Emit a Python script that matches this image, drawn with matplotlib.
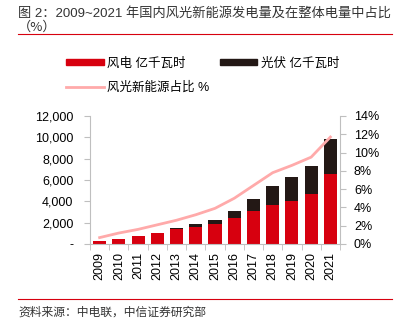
import matplotlib.pyplot as plt
import matplotlib.patches as mpatches
from matplotlib.lines import Line2D
from matplotlib.ticker import FuncFormatter
import numpy as np

plt.rcParams['font.family'] = ['Liberation Sans', 'Noto Sans CJK SC']

years = ['2009', '2010', '2011', '2012', '2013', '2014', '2015',
         '2016', '2017', '2018', '2019', '2020', '2021']
wind = [276, 494, 741, 1030, 1383, 1598, 1856, 2409, 3057, 3660, 4057, 4665, 6556]
solar = [0, 0, 6, 36, 84, 235, 392, 665, 1182, 1775, 2243, 2611, 3259]
share = [0.7, 1.2, 1.6, 2.1, 2.6, 3.2, 3.9, 5.0, 6.4, 7.8, 8.6, 9.5, 11.7]

RED = '#d7000f'
DARK = '#231815'
PINK = '#ffaaaa'
GREY = '#bfbfbf'

fig = plt.figure(figsize=(4.02, 3.29), dpi=100)
W, H = 402, 329

# title and rules
fig.text(18 / W, 1 - 13 / H, '图 2：2009~2021 年国内风光新能源发电量及在整体电量中占比',
         fontsize=9.5, color='#333333', va='center', ha='left')
fig.text(18 / W, 1 - 27 / H, '（%）', fontsize=9.5, color='#333333', va='center', ha='left',
         family=['Noto Sans CJK SC'])
fig.add_artist(Line2D([18 / W, 392 / W], [1 - 34 / H, 1 - 34 / H], color=RED, lw=0.8))
fig.add_artist(Line2D([18 / W, 392 / W], [1 - 299 / H, 1 - 299 / H], color=RED, lw=0.8))
fig.text(18 / W, 1 - 313 / H, '资料来源：中电联，中信证券研究部', fontsize=8.5,
         color='#333333', va='center', ha='left')

ax = fig.add_axes([90 / W, 1 - 244 / H, 250 / W, 128 / H])
x = np.arange(len(years))
ax.bar(x, wind, width=0.68, color=RED, zorder=2)
ax.bar(x, solar, width=0.68, bottom=wind, color=DARK, zorder=2)
ax.set_xlim(-0.5, len(years) - 0.5)
ax.set_ylim(0, 12000)
ax.set_yticks(range(0, 12001, 2000))
ax.yaxis.set_major_formatter(FuncFormatter(lambda v, p: '-' if v == 0 else f'{int(v):,}'))
ax.set_xticks(x)
ax.set_xticklabels(years, rotation=90, fontsize=9)
ax.set_xticks(np.arange(-0.5, len(years), 1), minor=True)
ax.tick_params(axis='x', which='major', length=0, pad=6)
ax.tick_params(axis='x', which='minor', length=4, color=GREY, direction='out')
ax.tick_params(axis='y', labelsize=9, length=4, color=GREY, pad=8)

for s in ['top', 'right']:
    ax.spines[s].set_visible(False)
for s in ['left', 'bottom']:
    ax.spines[s].set_color(GREY)

ax2 = ax.twinx()
ax2.plot(x, share, color=PINK, lw=2, zorder=3)
ax2.set_ylim(0, 14)
ax2.set_yticks(range(0, 15, 2))
ax2.yaxis.set_major_formatter(FuncFormatter(lambda v, p: f'{int(v)}%'))
ax2.tick_params(axis='y', labelsize=9, length=4, color=GREY, pad=6)
for s in ['top', 'left', 'bottom']:
    ax2.spines[s].set_visible(False)
ax2.spines['right'].set_color(GREY)

# legend: column-first fill, so order wind, line, solar
handles = [mpatches.Patch(color=RED, label='风电 亿千瓦时'),
           Line2D([], [], color=PINK, lw=2, label='风光新能源占比 %'),
           mpatches.Patch(color=DARK, label='光伏 亿千瓦时')]
fig.legend(handles=handles, ncol=2, loc='upper left', bbox_to_anchor=(55 / W, 1 - 46 / H),
           frameon=False, fontsize=9, handlelength=3.0, handleheight=0.4,
           columnspacing=0.8, labelspacing=1.0, handletextpad=0.3)

fig.savefig('out.png', dpi=100)
